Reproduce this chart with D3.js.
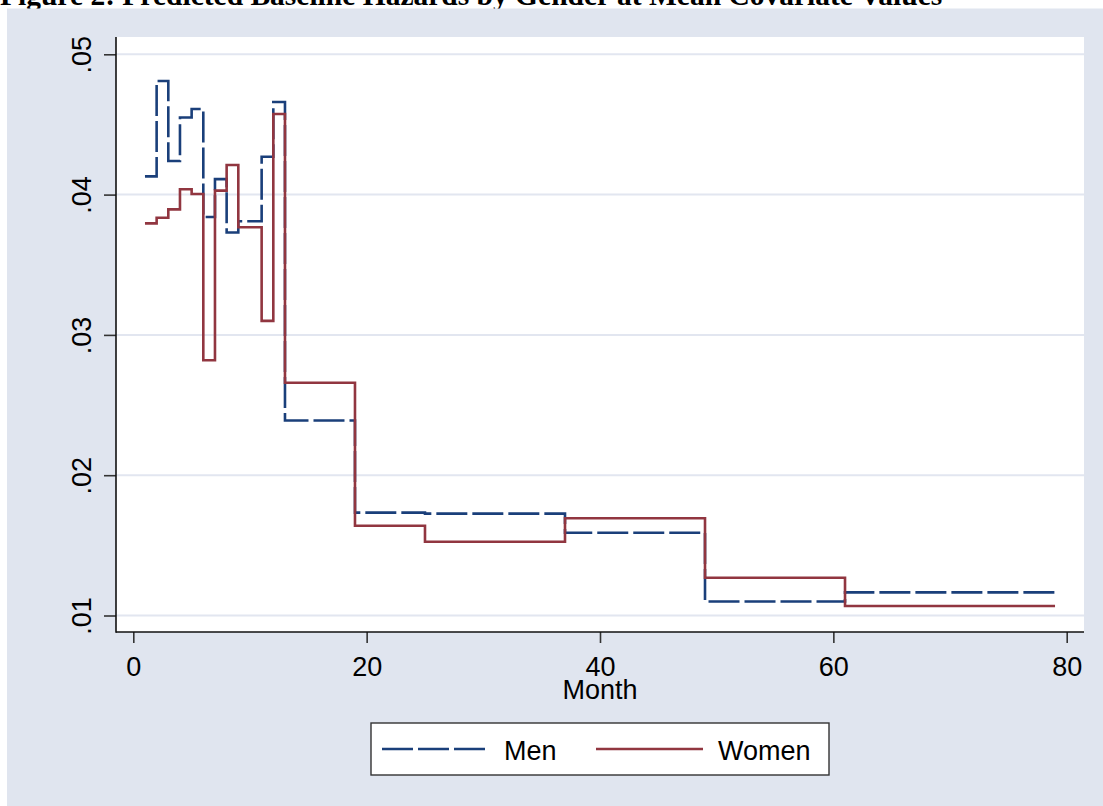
<!DOCTYPE html>
<html>
<head>
<meta charset="utf-8">
<script src="https://cdn.jsdelivr.net/npm/d3@7"></script>
<style>
  html, body { margin: 0; padding: 0; background: #ffffff; }
  svg { display: block; }
</style>
</head>
<body>
<svg id="chart" width="1103" height="806"></svg>
<script>
// Step boundaries (month at which each hazard level begins); last entry closes the final step
const monthsMen   = [1, 2, 3, 4, 5, 6, 7, 8, 9, 11, 12, 13, 19, 25, 37, 49, 61, 79];
const hazardMen   = [0.0413, 0.0481, 0.0424, 0.0455, 0.0461, 0.0384, 0.0411, 0.0373, 0.0381,
                     0.0427, 0.0466, 0.0239, 0.01733, 0.01726, 0.0159, 0.0110, 0.01165, 0.01165];
const monthsWomen = [1, 2, 3, 4, 5, 6, 7, 8, 9, 11, 12, 13, 19, 25, 37, 49, 61, 79];
const hazardWomen = [0.03795, 0.03835, 0.03895, 0.04038, 0.04004, 0.02819, 0.04028, 0.04211, 0.03767,
                     0.0310, 0.04574, 0.02659, 0.0164, 0.01526, 0.01693, 0.01269, 0.01068, 0.01068];
const xTicks = [0, 20, 40, 60, 80];
const yTicks = [0.01, 0.02, 0.03, 0.04, 0.05];
const yTickLabels = [".01", ".02", ".03", ".04", ".05"];
const seriesNames = ["Men", "Women"];

const svg = d3.select("#chart");
const W = 1103, H = 806;

// Title (runs off the top of the canvas)
svg.append("text")
  .attr("x", 0).attr("y", 5)
  .attr("font-family", "Liberation Serif, 'Times New Roman', serif")
  .attr("font-weight", "bold")
  .attr("font-size", 29.5)
  .attr("fill", "#000")
  .text("Figure 2: Predicted Baseline Hazards by Gender at Mean Covariate Values");

// Graph region background
svg.append("rect")
  .attr("x", 7).attr("y", 8.5)
  .attr("width", W - 7).attr("height", H - 8.5)
  .attr("fill", "#e0e5ef");

// Plot region
const plot = { left: 116, right: 1084, top: 37, bottom: 632 };
svg.append("rect")
  .attr("x", plot.left).attr("y", plot.top)
  .attr("width", plot.right - plot.left).attr("height", plot.bottom - plot.top)
  .attr("fill", "#ffffff");

const x = d3.scaleLinear().domain([0, 80]).range([133.3, 1066.7]);
const y = d3.scaleLinear().domain([0.01, 0.05]).range([615.5, 54.3]);

// Horizontal grid lines
svg.append("g")
  .selectAll("line")
  .data(yTicks)
  .join("line")
  .attr("x1", plot.left).attr("x2", plot.right)
  .attr("y1", d => y(d)).attr("y2", d => y(d))
  .attr("stroke", "#e2e6f0")
  .attr("stroke-width", 2);

const fontSans = "'Liberation Sans', Arial, Helvetica, sans-serif";

// Y axis
const yAxis = d3.axisLeft(y)
  .tickValues(yTicks)
  .tickSize(12)
  .tickFormat((d, i) => yTickLabels[i]);
const gy = svg.append("g")
  .attr("transform", `translate(${plot.left},0)`)
  .call(yAxis);
gy.select(".domain").remove();
gy.selectAll(".tick line").attr("stroke", "#333").attr("stroke-width", 1.6);
gy.selectAll(".tick text")
  .attr("font-family", fontSans)
  .attr("font-size", 27)
  .attr("fill", "#000")
  .attr("x", null).attr("dy", null)
  .attr("text-anchor", "middle")
  .attr("transform", "translate(-25,0) rotate(-90)");

// X axis
const xAxis = d3.axisBottom(x)
  .tickValues(xTicks)
  .tickSize(11)
  .tickFormat(d3.format("d"));
const gx = svg.append("g")
  .attr("transform", `translate(0,${plot.bottom})`)
  .call(xAxis);
gx.select(".domain").remove();
gx.selectAll(".tick line").attr("stroke", "#333").attr("stroke-width", 1.6);
gx.selectAll(".tick text")
  .attr("font-family", fontSans)
  .attr("font-size", 27)
  .attr("fill", "#000")
  .attr("dy", null)
  .attr("y", 44);

// Axis lines
svg.append("line")
  .attr("x1", plot.left).attr("x2", plot.left)
  .attr("y1", plot.top).attr("y2", plot.bottom + 0.8)
  .attr("stroke", "#111").attr("stroke-width", 1.6);
svg.append("line")
  .attr("x1", plot.left).attr("x2", plot.right)
  .attr("y1", plot.bottom).attr("y2", plot.bottom)
  .attr("stroke", "#111").attr("stroke-width", 1.6);

// X axis title
svg.append("text")
  .attr("x", 600).attr("y", 699)
  .attr("text-anchor", "middle")
  .attr("font-family", fontSans)
  .attr("font-size", 27)
  .attr("fill", "#000")
  .text("Month");

// Step lines
const line = d3.line()
  .x(d => x(d[0]))
  .y(d => y(d[1]))
  .curve(d3.curveStepAfter);

const menData = monthsMen.map((m, i) => [m, hazardMen[i]]);
const womenData = monthsWomen.map((m, i) => [m, hazardWomen[i]]);

const styles = [
  { color: "#1a3f7a", dash: "31,5" },
  { color: "#913640", dash: null }
];

svg.append("path")
  .datum(menData)
  .attr("d", line)
  .attr("fill", "none")
  .attr("stroke", styles[0].color)
  .attr("stroke-width", 2.6)
  .attr("stroke-dasharray", styles[0].dash)
  .attr("stroke-linejoin", "miter");

svg.append("path")
  .datum(womenData)
  .attr("d", line)
  .attr("fill", "none")
  .attr("stroke", styles[1].color)
  .attr("stroke-width", 2.6)
  .attr("stroke-linejoin", "miter");

// Legend
const legend = svg.append("g");
legend.append("rect")
  .attr("x", 371).attr("y", 723)
  .attr("width", 458).attr("height", 52)
  .attr("fill", "#ffffff")
  .attr("stroke", "#333")
  .attr("stroke-width", 1.4);

const legendItems = [
  { name: seriesNames[0], x1: 382, x2: 488, tx: 504 },
  { name: seriesNames[1], x1: 596, x2: 703, tx: 718 }
];
legendItems.forEach((it, i) => {
  legend.append("line")
    .attr("x1", it.x1).attr("x2", it.x2)
    .attr("y1", 749).attr("y2", 749)
    .attr("stroke", styles[i].color)
    .attr("stroke-width", 2.6)
    .attr("stroke-dasharray", styles[i].dash);
  legend.append("text")
    .attr("x", it.tx).attr("y", 759.5)
    .attr("font-family", fontSans)
    .attr("font-size", 27)
    .attr("fill", "#000")
    .text(it.name);
});
</script>
</body>
</html>
